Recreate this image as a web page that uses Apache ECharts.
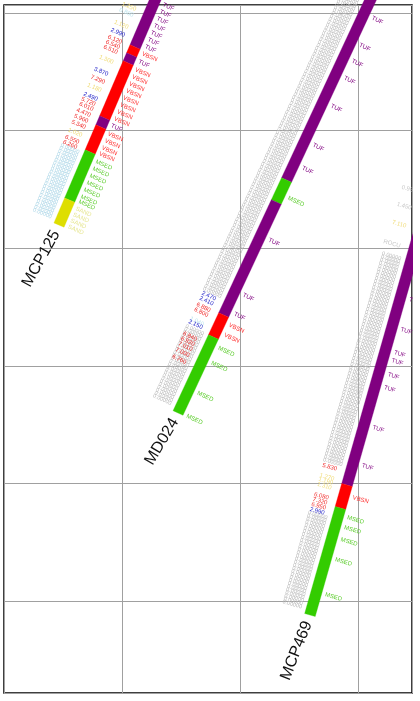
<!DOCTYPE html>
<html>
<head>
<meta charset="utf-8">
<style>
html, body { margin: 0; padding: 0; background: #fff; }
#chart { width: 420px; height: 701px; }
</style>
<script src="https://cdn.jsdelivr.net/npm/echarts@6/dist/echarts.min.js"></script>
</head>
<body>
<div id="chart"></div>
<script>
// map frame, in grid cells (1 = one grid square)
const X_MIN = 0, X_MAX = 3.458;
const Y_MIN = -0.782, Y_MAX = 5.068;

const wellNames = ['MCP125', 'MD024', 'MCP469'];
// path ends [x, y] and measured depth at those ends
const wellTop = [[1.299, 5.153], [3.125, 5.153], [3.716, 3.835]];
const wellBase = [[0.466, 3.197], [1.475, 1.599], [2.593, -0.119]];
const wellMD = [[0, 2300], [0, 4180], [0, 4650]];

const lithNames = ['TUF', 'VBSN', 'MSED', 'SAND'];
const lithColors = ['#800080', '#ff0000', '#33cc00', '#dede00'];
const lithTextColors = ['#800080', '#ff3030', '#5acc2a', '#e6e690'];

// [well, top MD, base MD, lith]
const intervals = [
  [0, 0, 520, 0], [0, 520, 600, 1], [0, 600, 680, 0], [0, 680, 1230, 1],
  [0, 1230, 1320, 0], [0, 1320, 1570, 1], [0, 1570, 2050, 2], [0, 2050, 2300, 3],
  [1, 0, 1850, 0], [1, 1850, 2070, 2], [1, 2070, 3200, 0], [1, 3200, 3420, 1], [1, 3420, 4180, 2],
  [2, 0, 3350, 0], [2, 3350, 3580, 1], [2, 3580, 4650, 2]
];

// lithology tags on the right of each track: [well, MD, lith]
const lithTags = [
  [0, 60, 0], [0, 130, 0], [0, 200, 0], [0, 270, 0], [0, 340, 0], [0, 410, 0], [0, 480, 0],
  [0, 550, 1], [0, 630, 0],
  [0, 710, 1], [0, 780, 1], [0, 850, 1], [0, 920, 1], [0, 990, 1], [0, 1060, 1], [0, 1130, 1], [0, 1200, 1],
  [0, 1270, 0],
  [0, 1350, 1], [0, 1420, 1], [0, 1490, 1], [0, 1550, 1],
  [0, 1630, 2], [0, 1700, 2], [0, 1770, 2], [0, 1840, 2], [0, 1910, 2], [0, 1980, 2], [0, 2030, 2],
  [0, 2100, 3], [0, 2160, 3], [0, 2220, 3], [0, 2280, 3],
  [1, 190, 0], [1, 460, 0], [1, 620, 0], [1, 790, 0], [1, 1070, 0], [1, 1460, 0], [1, 1690, 0],
  [1, 1990, 2], [1, 2410, 0], [1, 2960, 0], [1, 3150, 0], [1, 3260, 1], [1, 3360, 1],
  [1, 3490, 2], [1, 3640, 2], [1, 3940, 2], [1, 4170, 2],
  [2, 1470, 0], [2, 1770, 0], [2, 2000, 0], [2, 2080, 0], [2, 2220, 0], [2, 2350, 0], [2, 2750, 0],
  [2, 3130, 0], [2, 3450, 1], [2, 3650, 2], [2, 3750, 2], [2, 3870, 2], [2, 4070, 2], [2, 4420, 2]
];

// readings on the left of each track: [well, MD, text, colour]
const readingColors = ['#2424c8', '#f02828', '#f0dc7a', '#bfe4ee', '#c8c8c8'];
const readings = [
  [0, 200, '1.250', 2], [0, 260, '0.860', 3], [0, 380, '1.120', 2], [0, 460, '2.990', 0],
  [0, 530, '6.120', 1], [0, 580, '6.540', 1], [0, 630, '6.510', 1], [0, 730, '1.300', 2],
  [0, 850, '3.870', 0], [0, 930, '7.290', 1], [0, 1010, '1.180', 2], [0, 1100, '2.490', 0],
  [0, 1150, '5.720', 1], [0, 1200, '6.010', 1], [0, 1260, '4.470', 1], [0, 1320, '5.960', 1],
  [0, 1380, '5.340', 1], [0, 1460, '1.020', 2], [0, 1530, '6.550', 1], [0, 1580, '6.260', 1],
  [1, 3100, '2.470', 0], [1, 3150, '2.410', 0], [1, 3215, '6.880', 1], [1, 3265, '6.800', 1],
  [1, 3355, '1.040', 3], [1, 3385, '2.150', 0], [1, 3505, '6.840', 1], [1, 3555, '6.920', 1],
  [1, 3605, '7.010', 1], [1, 3665, '7.000', 1], [1, 3735, '6.760', 1],
  [2, 450, '0.960', 4], [2, 620, '1.450', 4], [2, 800, '7.110', 2], [2, 1000, 'ROCU', 4],
  [2, 3230, '5.830', 1], [2, 3330, '1.270', 2], [2, 3370, '1.190', 2], [2, 3420, '1.310', 2],
  [2, 3520, '6.080', 1], [2, 3570, '7.320', 1], [2, 3620, '6.950', 1], [2, 3670, '2.990', 0]
];

// faint sample column beside the track: [well, from MD, to MD, colour]
const sampleBands = [
  [0, 1600, 2290, 3],
  [1, 0, 3080, 4], [1, 3420, 4150, 4],
  [2, 1100, 3220, 4], [2, 3690, 4640, 4]
];

const BAR_W = 11;
const FONT = 'Arial, "Liberation Sans", sans-serif';

const chart = echarts.init(document.getElementById('chart'));

function frame(api, w) {
  const a = api.coord(wellTop[w]);
  const b = api.coord(wellBase[w]);
  const len = Math.hypot(b[0] - a[0], b[1] - a[1]);
  const d = [(b[0] - a[0]) / len, (b[1] - a[1]) / len];
  return { a, b, d, n: [d[1], -d[0]], tilt: Math.atan2(-d[0], d[1]) };
}
function at(f, w, md) {
  const t = (md - wellMD[w][0]) / (wellMD[w][1] - wellMD[w][0]);
  return [f.a[0] + (f.b[0] - f.a[0]) * t, f.a[1] + (f.b[1] - f.a[1]) * t];
}
function clipRect(api) {
  const r = api.coord([X_MAX, Y_MIN]);
  return { type: 'rect', shape: { x: 0, y: 0, width: r[0] + 1, height: 2000 } };
}

const option = {
  animation: false,
  backgroundColor: '#fff',
  grid: { left: 4, right: 8, top: 5, bottom: 8, show: true, borderColor: '#000', borderWidth: 1.5 },
  xAxis: {
    type: 'value', min: X_MIN, max: X_MAX, interval: 1,
    axisLine: { show: false }, axisTick: { show: false }, axisLabel: { show: false },
    splitLine: { show: true, lineStyle: { color: '#a0a0a0', width: 1 } }
  },
  yAxis: {
    type: 'value', min: Y_MIN, max: Y_MAX, splitNumber: 5,
    axisLine: { show: false }, axisTick: { show: false }, axisLabel: { show: false },
    splitLine: { show: true, lineStyle: { color: '#a0a0a0', width: 1 } }
  },
  series: [
    {
      name: 'samples', type: 'custom', silent: true, z: 2,
      data: sampleBands.map(b => [b[0], b[1]]),
      renderItem(params, api) {
        const [w, m0, m1, c] = sampleBands[params.dataIndex];
        const f = frame(api, w);
        const p0 = at(f, w, m0), p1 = at(f, w, m1);
        const lh = 3.2;
        const count = Math.floor(Math.hypot(p1[0] - p0[0], p1[1] - p0[1]) / lh);
        const text = Array.from({ length: count }, () => '0.00000').join('\n');
        return {
          type: 'group', clipPath: clipRect(api),
          children: [{
            type: 'text',
            x: p0[0] - f.n[0] * 10, y: p0[1] - f.n[1] * 10,
            rotation: -f.tilt,
            style: { text, fill: c === 3 ? '#b0d8e8' : '#b8b8b8', font: '5.5px ' + FONT, align: 'right', verticalAlign: 'top', lineHeight: lh }
          }]
        };
      }
    },
    {
      name: 'readings', type: 'custom', silent: true, z: 3,
      data: readings.map(r => [r[0], r[1]]),
      renderItem(params, api) {
        const [w, md, txt, c] = readings[params.dataIndex];
        const f = frame(api, w);
        const p = at(f, w, md);
        return {
          type: 'group', clipPath: clipRect(api),
          children: [{
            type: 'text',
            x: p[0] - f.n[0] * 14, y: p[1] - f.n[1] * 14,
            rotation: -f.tilt,
            style: { text: txt, fill: readingColors[c], font: '6px ' + FONT, align: 'right', verticalAlign: 'middle' }
          }]
        };
      }
    },
    {
      name: 'lithology tags', type: 'custom', silent: true, z: 3,
      data: lithTags,
      renderItem(params, api) {
        const [w, md, lith] = lithTags[params.dataIndex];
        const f = frame(api, w);
        const p = at(f, w, md);
        return {
          type: 'group', clipPath: clipRect(api),
          children: [{
            type: 'text',
            x: p[0] + f.n[0] * 9, y: p[1] + f.n[1] * 9,
            rotation: -f.tilt,
            style: { text: lithNames[lith], fill: lithTextColors[lith], font: '6px ' + FONT, align: 'left', verticalAlign: 'middle' }
          }]
        };
      }
    },
    {
      name: 'intervals', type: 'custom', silent: true, z: 4,
      data: intervals,
      renderItem(params, api) {
        const [w, top, base, lith] = intervals[params.dataIndex];
        const f = frame(api, w);
        const p0 = at(f, w, top), p1 = at(f, w, base);
        const h = BAR_W / 2;
        const pts = [
          [p0[0] + f.n[0] * h, p0[1] + f.n[1] * h],
          [p1[0] + f.n[0] * h, p1[1] + f.n[1] * h],
          [p1[0] - f.n[0] * h, p1[1] - f.n[1] * h],
          [p0[0] - f.n[0] * h, p0[1] - f.n[1] * h]
        ];
        return {
          type: 'group', clipPath: clipRect(api),
          children: [{ type: 'polygon', shape: { points: pts }, style: { fill: lithColors[lith], stroke: lithColors[lith], lineWidth: 0.3 } }]
        };
      }
    },
    {
      name: 'wells', type: 'custom', silent: true, z: 5,
      data: wellNames.map((n, i) => [i]),
      renderItem(params, api) {
        const w = params.dataIndex;
        const f = frame(api, w);
        const p = at(f, w, wellMD[w][1]);
        return {
          type: 'text',
          x: p[0] + f.d[0] * 7, y: p[1] + f.d[1] * 7,
          rotation: Math.PI / 2 - f.tilt - 0.1,
          style: { text: wellNames[w], fill: '#111', font: '16px ' + FONT, align: 'right', verticalAlign: 'middle' }
        };
      }
    }
  ]
};
chart.setOption(option);
</script>
</body>
</html>
